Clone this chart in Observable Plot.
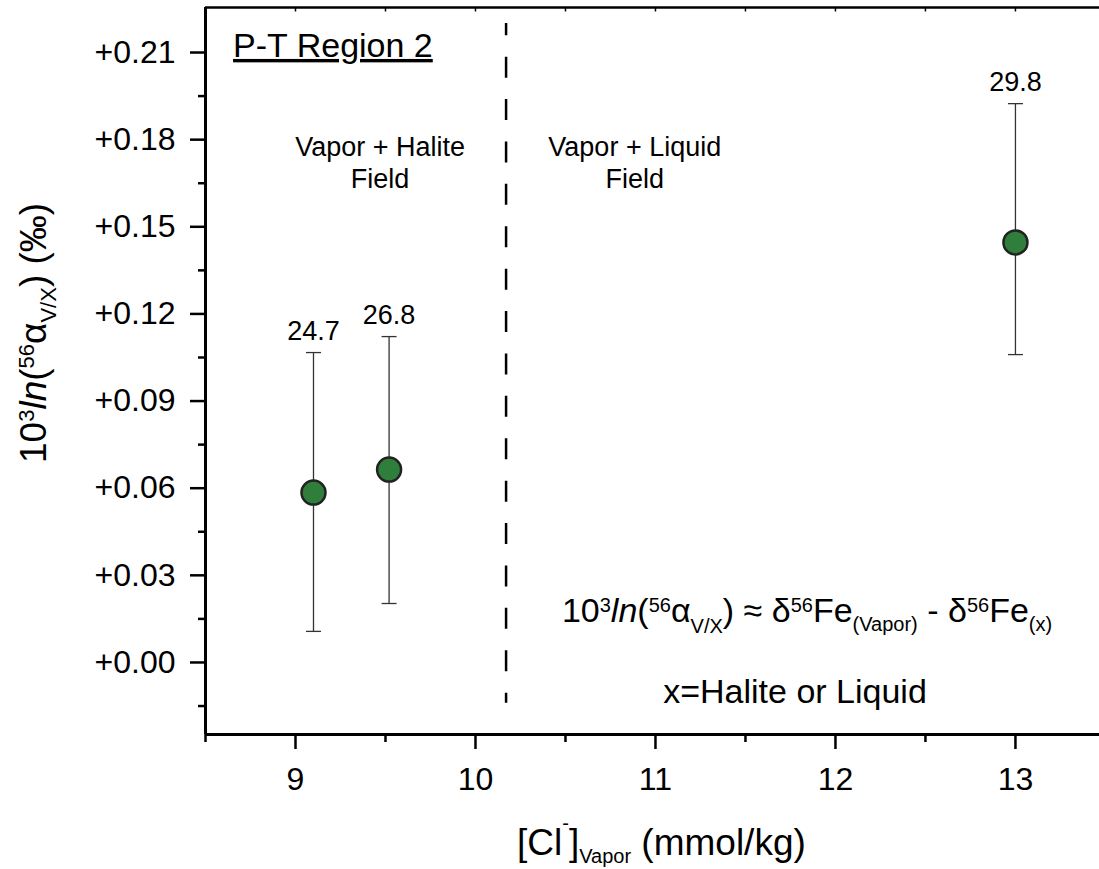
<!DOCTYPE html>
<html>
<head>
<meta charset="utf-8">
<script src="https://cdn.jsdelivr.net/npm/d3@7"></script>
<script src="https://cdn.jsdelivr.net/npm/@observablehq/plot@0.6"></script>
<style>
  html, body { margin: 0; padding: 0; background: #fff; }
  svg { display: block; }
</style>
</head>
<body>
<div id="chart"></div>
<script>
// ---- data ----
const chloride = [9.10, 9.52, 13.00];              // [Cl-] vapor, mmol/kg
const fractionation = [0.0585, 0.0664, 0.1446];    // 10^3 ln alpha (‰)
const errLow = [0.0107, 0.0203, 0.1060];
const errHigh = [0.1067, 0.1122, 0.1924];
const tempLabels = ["24.7", "26.8", "29.8"];

const yMajorTicks = [0, 0.03, 0.06, 0.09, 0.12, 0.15, 0.18, 0.21];
const yMinorTicks = [-0.015, 0.015, 0.045, 0.075, 0.105, 0.135, 0.165, 0.195];
const xMajorTicks = [9, 10, 11, 12, 13];
const xMinorTicks = [8.5, 9.5, 10.5, 11.5, 12.5];
const xTopTicks = [9, 9.5, 10, 10.5, 11, 11.5, 12, 12.5, 13];
const xDomain = [8.5, 13.467];
const yDomain = [-0.0248, 0.2255];
const phaseBoundary = [10.17];
const fieldNames = ["Vapor + Halite\nField", "Vapor + Liquid\nField"];

const points = chloride.map((x, i) => ({
  x, y: fractionation[i], lo: errLow[i], hi: errHigh[i], label: tempLabels[i]
}));

const capSymbol = { draw(ctx) { ctx.moveTo(-7.5, 0); ctx.lineTo(7.5, 0); } };
const downTick = { draw(ctx) { ctx.moveTo(0, 0); ctx.lineTo(0, 4); } };
const FONT = "'Liberation Sans', Arial, Helvetica, sans-serif";

const plot = Plot.plot({
  width: 1099,
  height: 869,
  marginLeft: 205,
  marginRight: 0,
  marginTop: 7,
  marginBottom: 135,
  style: { fontFamily: FONT, fontSize: "32px", color: "#000", background: "#fff" },
  x: { domain: xDomain },
  y: { domain: yDomain },
  marks: [
    // axis lines
    Plot.ruleY([yDomain[1]], { stroke: "#000", strokeWidth: 2.5 }),
    Plot.ruleY([yDomain[0]], { stroke: "#000", strokeWidth: 3 }),
    Plot.ruleX([xDomain[0]], { stroke: "#000", strokeWidth: 3 }),
    Plot.dot(xTopTicks, { x: d => d, y: () => yDomain[1], symbol: downTick, fill: "none", stroke: "#000", strokeWidth: 1.5 }),
    // axes
    Plot.axisY({ ticks: yMajorTicks, tickSize: 15, tickPadding: 15, strokeWidth: 2.5, label: null,
                 tickFormat: d => (d < 0 ? "" : "+") + d.toFixed(2) }),
    Plot.axisY({ ticks: yMinorTicks, tickSize: 7, strokeWidth: 2.5, label: null, tickFormat: () => "" }),
    Plot.axisX({ ticks: xMajorTicks, tickSize: 15, tickPadding: 18, strokeWidth: 2.5, label: null,
                 tickFormat: d => String(d) }),
    Plot.axisX({ ticks: xMinorTicks, tickSize: 8, strokeWidth: 2.5, label: null, tickFormat: () => "" }),
    // phase boundary
    Plot.ruleX(phaseBoundary, { y1: -0.014, y2: 0.22, stroke: "#000", strokeWidth: 2.5,
                                strokeDasharray: "21,21.4", strokeDashoffset: 11 }),
    // error bars
    Plot.ruleX(points, { x: "x", y1: "lo", y2: "hi", stroke: "#333", strokeWidth: 1.3 }),
    Plot.dot(points, { x: "x", y: "lo", symbol: capSymbol, fill: "none", stroke: "#333", strokeWidth: 1.3 }),
    Plot.dot(points, { x: "x", y: "hi", symbol: capSymbol, fill: "none", stroke: "#333", strokeWidth: 1.3 }),
    // points
    Plot.dot(points, { x: "x", y: "y", r: 12, fill: "#2f7e3b", stroke: "#222", strokeWidth: 2.5 }),
    // labels above error bars
    Plot.text(points, { x: "x", y: "hi", text: "label", dy: -13, lineAnchor: "bottom", fontSize: 27, fill: "#000" }),
    // field labels
    Plot.text([fieldNames[0]], { x: () => 9.47, y: () => 0.1635, text: d => d, lineAnchor: "bottom", lineHeight: 1.185, fontSize: 27, fill: "#000" }),
    Plot.text([fieldNames[1]], { x: () => 10.885, y: () => 0.1635, text: d => d, lineAnchor: "bottom", lineHeight: 1.185, fontSize: 27, fill: "#000" })
  ]
});

document.getElementById("chart").appendChild(plot);

// ---- rich text (sub/superscripts) ----
const svg = d3.select(plot);
const sx = plot.scale("x"), sy = plot.scale("y");

function richText(parent, segs, attrs) {
  const t = parent.append("text")
    .attr("fill", "#000")
    .style("font-family", FONT)
    .style("white-space", "pre");
  for (const [k, v] of Object.entries(attrs)) t.attr(k, v);
  let cur = 0;
  for (const s of segs) {
    const shift = s.shift || 0;
    const ts = t.append("tspan").style("font-size", s.size + "px").text(s.t);
    if (shift !== cur) ts.attr("dy", shift - cur);
    if (s.italic) ts.style("font-style", "italic");
    cur = shift;
  }
  return t;
}

const g = svg.append("g");

// P-T Region 2 (underlined)
richText(g, [{ t: "P-T Region 2", size: 34 }], {
  x: sx.apply(8.656), y: sy.apply(0.2083), "text-anchor": "start"
}).style("text-decoration", "underline");

// formula
const F = 34, f = 20;
richText(g, [
  { t: "10", size: F }, { t: "3", size: f, shift: -10 }, { t: "ln", size: F, italic: true },
  { t: "(", size: F }, { t: "56", size: f, shift: -10 }, { t: "α", size: F },
  { t: "V/X", size: f, shift: 11 }, { t: ") ≈ δ", size: F }, { t: "56", size: f, shift: -10 },
  { t: "Fe", size: F }, { t: "(Vapor)", size: f, shift: 9 }, { t: " - δ", size: F },
  { t: "56", size: f, shift: -10 }, { t: "Fe", size: F }, { t: "(x)", size: f, shift: 9 }
], { x: sx.apply(10.483), y: sy.apply(0.01377), "text-anchor": "start" });

richText(g, [{ t: "x=Halite or Liquid", size: 34 }], {
  x: sx.apply(11.778), y: sy.apply(-0.0141), "text-anchor": "middle"
});

// x axis title
richText(g, [
  { t: "[Cl", size: 37 }, { t: "-", size: 20, shift: -25 }, { t: "]", size: 37 },
  { t: "Vapor", size: 20, shift: 8 }, { t: " (mmol/kg)", size: 37 }
], { x: 517, y: 855, "text-anchor": "start" });

// y axis title
richText(g, [
  { t: "10", size: 37 }, { t: "3", size: 22, shift: -12 }, { t: "ln", size: 37, italic: true },
  { t: "(", size: 37 }, { t: "56", size: 22, shift: -12 }, { t: "α", size: 37 },
  { t: "V/X", size: 22, shift: 10 }, { t: ") (‰)", size: 37 }
], { transform: "translate(46,463) rotate(-90)", "text-anchor": "start" });
</script>
</body>
</html>
